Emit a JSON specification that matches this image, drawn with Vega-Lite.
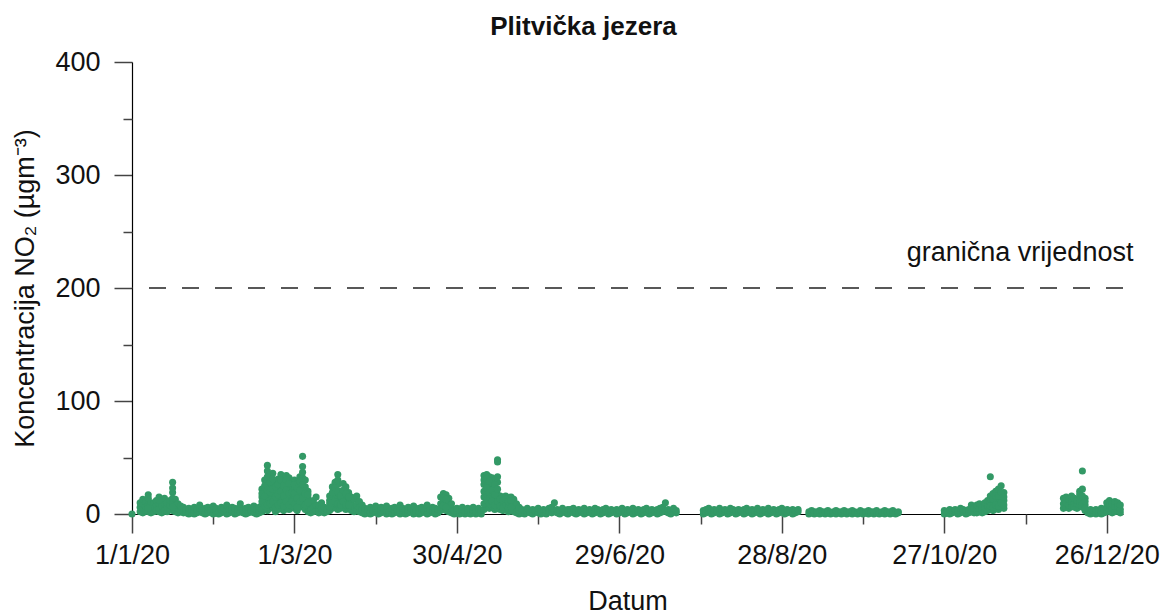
{
"$schema":"https://vega.github.io/schema/vega-lite/v6.json",
"width":991,"height":452,"autosize":"none",
"padding":{"left":132,"top":62,"right":44,"bottom":102},
"background":"white",
"title":{"text":"Plitvička jezera","font":"Liberation Sans","fontSize":26,"fontWeight":"bold","color":"#111","anchor":"middle","dx":-44,"offset":8},
"config":{"view":{"stroke":null},"axis":{"grid":false,"labelFont":"Liberation Sans","titleFont":"Liberation Sans","labelColor":"#111","titleColor":"#111","titleFontWeight":"normal","domainColor":"#000","tickColor":"#444","tickWidth":1.5,"domainWidth":1.2}},
"resolve":{"axis":{"x":"independent","y":"independent"}},
"layer":[
{"data":{"values":[
{"t":"2020-01-01","v":0},
{"t":"2020-01-04","v":2},{"t":"2020-01-04","v":6},{"t":"2020-01-04","v":10},
{"t":"2020-01-05","v":1},{"t":"2020-01-05","v":5},{"t":"2020-01-05","v":9},{"t":"2020-01-05","v":13},
{"t":"2020-01-06","v":3},{"t":"2020-01-06","v":7},{"t":"2020-01-06","v":11},
{"t":"2020-01-07","v":2},{"t":"2020-01-07","v":8},{"t":"2020-01-07","v":17},{"t":"2020-01-07","v":12},
{"t":"2020-01-08","v":1},{"t":"2020-01-08","v":4},{"t":"2020-01-08","v":9},
{"t":"2020-01-09","v":2},{"t":"2020-01-09","v":6},{"t":"2020-01-09","v":10},
{"t":"2020-01-10","v":3},{"t":"2020-01-10","v":8},{"t":"2020-01-10","v":12},
{"t":"2020-01-11","v":2},{"t":"2020-01-11","v":5},{"t":"2020-01-11","v":15},{"t":"2020-01-11","v":9},
{"t":"2020-01-12","v":1},{"t":"2020-01-12","v":7},{"t":"2020-01-12","v":11},
{"t":"2020-01-13","v":3},{"t":"2020-01-13","v":9},{"t":"2020-01-13","v":14},
{"t":"2020-01-14","v":2},{"t":"2020-01-14","v":6},{"t":"2020-01-14","v":10},
{"t":"2020-01-15","v":4},{"t":"2020-01-15","v":8},{"t":"2020-01-15","v":12},
{"t":"2020-01-16","v":3},{"t":"2020-01-16","v":10},{"t":"2020-01-16","v":19},{"t":"2020-01-16","v":28},
{"t":"2020-01-17","v":2},{"t":"2020-01-17","v":7},{"t":"2020-01-17","v":13},
{"t":"2020-01-18","v":1},{"t":"2020-01-18","v":5},{"t":"2020-01-18","v":9},
{"t":"2020-01-19","v":2},{"t":"2020-01-19","v":4},{"t":"2020-01-19","v":7},
{"t":"2020-01-20","v":1},{"t":"2020-01-20","v":3},{"t":"2020-01-20","v":6},
{"t":"2020-01-21","v":1},{"t":"2020-01-21","v":4},
{"t":"2020-01-22","v":0},{"t":"2020-01-22","v":3},{"t":"2020-01-22","v":5},
{"t":"2020-01-23","v":1},{"t":"2020-01-23","v":2},{"t":"2020-01-23","v":4},
{"t":"2020-01-24","v":0},{"t":"2020-01-24","v":3},{"t":"2020-01-24","v":6},
{"t":"2020-01-25","v":1},{"t":"2020-01-25","v":4},
{"t":"2020-01-26","v":2},{"t":"2020-01-26","v":5},{"t":"2020-01-26","v":8},
{"t":"2020-01-27","v":1},{"t":"2020-01-27","v":3},
{"t":"2020-01-28","v":0},{"t":"2020-01-28","v":2},{"t":"2020-01-28","v":5},
{"t":"2020-01-29","v":1},{"t":"2020-01-29","v":4},{"t":"2020-01-29","v":6},
{"t":"2020-01-30","v":2},{"t":"2020-01-30","v":3},
{"t":"2020-01-31","v":0},{"t":"2020-01-31","v":4},{"t":"2020-01-31","v":7},
{"t":"2020-02-01","v":1},{"t":"2020-02-01","v":3},{"t":"2020-02-01","v":5},
{"t":"2020-02-02","v":0},{"t":"2020-02-02","v":2},
{"t":"2020-02-03","v":1},{"t":"2020-02-03","v":4},{"t":"2020-02-03","v":6},
{"t":"2020-02-04","v":2},{"t":"2020-02-04","v":5},
{"t":"2020-02-05","v":0},{"t":"2020-02-05","v":3},{"t":"2020-02-05","v":8},
{"t":"2020-02-06","v":1},{"t":"2020-02-06","v":4},
{"t":"2020-02-07","v":2},{"t":"2020-02-07","v":3},{"t":"2020-02-07","v":6},
{"t":"2020-02-08","v":0},{"t":"2020-02-08","v":2},{"t":"2020-02-08","v":5},
{"t":"2020-02-09","v":1},{"t":"2020-02-09","v":4},
{"t":"2020-02-10","v":2},{"t":"2020-02-10","v":6},{"t":"2020-02-10","v":9},
{"t":"2020-02-11","v":1},{"t":"2020-02-11","v":3},
{"t":"2020-02-12","v":0},{"t":"2020-02-12","v":2},{"t":"2020-02-12","v":5},
{"t":"2020-02-13","v":1},{"t":"2020-02-13","v":4},{"t":"2020-02-13","v":6},
{"t":"2020-02-14","v":2},{"t":"2020-02-14","v":3},
{"t":"2020-02-15","v":1},{"t":"2020-02-15","v":5},{"t":"2020-02-15","v":7},
{"t":"2020-02-16","v":0},{"t":"2020-02-16","v":2},{"t":"2020-02-16","v":4},
{"t":"2020-02-17","v":1},{"t":"2020-02-17","v":3},{"t":"2020-02-17","v":6},
{"t":"2020-02-18","v":2},{"t":"2020-02-18","v":8},{"t":"2020-02-18","v":15},{"t":"2020-02-18","v":22},
{"t":"2020-02-19","v":4},{"t":"2020-02-19","v":12},{"t":"2020-02-19","v":20},{"t":"2020-02-19","v":30},
{"t":"2020-02-20","v":3},{"t":"2020-02-20","v":15},{"t":"2020-02-20","v":28},{"t":"2020-02-20","v":38},{"t":"2020-02-20","v":43},
{"t":"2020-02-21","v":5},{"t":"2020-02-21","v":14},{"t":"2020-02-21","v":24},{"t":"2020-02-21","v":33},
{"t":"2020-02-22","v":6},{"t":"2020-02-22","v":18},{"t":"2020-02-22","v":27},{"t":"2020-02-22","v":36},
{"t":"2020-02-23","v":2},{"t":"2020-02-23","v":10},{"t":"2020-02-23","v":20},{"t":"2020-02-23","v":29},
{"t":"2020-02-24","v":4},{"t":"2020-02-24","v":13},{"t":"2020-02-24","v":22},{"t":"2020-02-24","v":31},
{"t":"2020-02-25","v":5},{"t":"2020-02-25","v":16},{"t":"2020-02-25","v":25},{"t":"2020-02-25","v":35},
{"t":"2020-02-26","v":3},{"t":"2020-02-26","v":11},{"t":"2020-02-26","v":21},{"t":"2020-02-26","v":30},
{"t":"2020-02-27","v":6},{"t":"2020-02-27","v":17},{"t":"2020-02-27","v":26},{"t":"2020-02-27","v":34},
{"t":"2020-02-28","v":4},{"t":"2020-02-28","v":12},{"t":"2020-02-28","v":23},{"t":"2020-02-28","v":32},
{"t":"2020-02-29","v":7},{"t":"2020-02-29","v":15},{"t":"2020-02-29","v":24},{"t":"2020-02-29","v":28},
{"t":"2020-03-01","v":5},{"t":"2020-03-01","v":14},{"t":"2020-03-01","v":22},{"t":"2020-03-01","v":30},
{"t":"2020-03-02","v":3},{"t":"2020-03-02","v":10},{"t":"2020-03-02","v":19},{"t":"2020-03-02","v":27},
{"t":"2020-03-03","v":6},{"t":"2020-03-03","v":16},{"t":"2020-03-03","v":26},{"t":"2020-03-03","v":33},
{"t":"2020-03-04","v":8},{"t":"2020-03-04","v":20},{"t":"2020-03-04","v":32},{"t":"2020-03-04","v":42},{"t":"2020-03-04","v":51},
{"t":"2020-03-05","v":4},{"t":"2020-03-05","v":12},{"t":"2020-03-05","v":24},{"t":"2020-03-05","v":30},
{"t":"2020-03-06","v":2},{"t":"2020-03-06","v":7},{"t":"2020-03-06","v":14},{"t":"2020-03-06","v":20},
{"t":"2020-03-07","v":1},{"t":"2020-03-07","v":4},{"t":"2020-03-07","v":9},
{"t":"2020-03-08","v":2},{"t":"2020-03-08","v":6},{"t":"2020-03-08","v":12},
{"t":"2020-03-09","v":3},{"t":"2020-03-09","v":8},{"t":"2020-03-09","v":15},
{"t":"2020-03-10","v":1},{"t":"2020-03-10","v":4},{"t":"2020-03-10","v":8},
{"t":"2020-03-11","v":2},{"t":"2020-03-11","v":5},{"t":"2020-03-11","v":10},
{"t":"2020-03-12","v":1},{"t":"2020-03-12","v":3},{"t":"2020-03-12","v":6},
{"t":"2020-03-13","v":2},{"t":"2020-03-13","v":4},
{"t":"2020-03-14","v":3},{"t":"2020-03-14","v":9},{"t":"2020-03-14","v":16},
{"t":"2020-03-15","v":5},{"t":"2020-03-15","v":15},{"t":"2020-03-15","v":24},
{"t":"2020-03-16","v":6},{"t":"2020-03-16","v":18},{"t":"2020-03-16","v":28},
{"t":"2020-03-17","v":4},{"t":"2020-03-17","v":14},{"t":"2020-03-17","v":26},{"t":"2020-03-17","v":35},{"t":"2020-03-17","v":30},
{"t":"2020-03-18","v":5},{"t":"2020-03-18","v":12},{"t":"2020-03-18","v":20},
{"t":"2020-03-19","v":6},{"t":"2020-03-19","v":16},{"t":"2020-03-19","v":27},
{"t":"2020-03-20","v":4},{"t":"2020-03-20","v":13},{"t":"2020-03-20","v":24},
{"t":"2020-03-21","v":5},{"t":"2020-03-21","v":11},{"t":"2020-03-21","v":19},
{"t":"2020-03-22","v":3},{"t":"2020-03-22","v":9},{"t":"2020-03-22","v":15},
{"t":"2020-03-23","v":2},{"t":"2020-03-23","v":7},{"t":"2020-03-23","v":13},
{"t":"2020-03-24","v":3},{"t":"2020-03-24","v":8},{"t":"2020-03-24","v":16},
{"t":"2020-03-25","v":2},{"t":"2020-03-25","v":6},{"t":"2020-03-25","v":11},
{"t":"2020-03-26","v":1},{"t":"2020-03-26","v":4},{"t":"2020-03-26","v":8},
{"t":"2020-03-27","v":0},{"t":"2020-03-27","v":3},{"t":"2020-03-27","v":5},
{"t":"2020-03-28","v":1},{"t":"2020-03-28","v":4},
{"t":"2020-03-29","v":0},{"t":"2020-03-29","v":2},{"t":"2020-03-29","v":6},
{"t":"2020-03-30","v":1},{"t":"2020-03-30","v":3},
{"t":"2020-03-31","v":2},{"t":"2020-03-31","v":5},{"t":"2020-03-31","v":7},
{"t":"2020-04-01","v":0},{"t":"2020-04-01","v":3},
{"t":"2020-04-02","v":1},{"t":"2020-04-02","v":4},{"t":"2020-04-02","v":6},
{"t":"2020-04-03","v":2},{"t":"2020-04-03","v":5},
{"t":"2020-04-04","v":0},{"t":"2020-04-04","v":3},{"t":"2020-04-04","v":7},
{"t":"2020-04-05","v":1},{"t":"2020-04-05","v":2},
{"t":"2020-04-06","v":0},{"t":"2020-04-06","v":4},{"t":"2020-04-06","v":5},
{"t":"2020-04-07","v":1},{"t":"2020-04-07","v":3},{"t":"2020-04-07","v":6},
{"t":"2020-04-08","v":2},{"t":"2020-04-08","v":4},
{"t":"2020-04-09","v":0},{"t":"2020-04-09","v":3},{"t":"2020-04-09","v":8},
{"t":"2020-04-10","v":1},{"t":"2020-04-10","v":5},
{"t":"2020-04-11","v":0},{"t":"2020-04-11","v":2},{"t":"2020-04-11","v":4},
{"t":"2020-04-12","v":1},{"t":"2020-04-12","v":3},{"t":"2020-04-12","v":6},
{"t":"2020-04-13","v":2},{"t":"2020-04-13","v":5},
{"t":"2020-04-14","v":0},{"t":"2020-04-14","v":4},{"t":"2020-04-14","v":7},
{"t":"2020-04-15","v":1},{"t":"2020-04-15","v":3},
{"t":"2020-04-16","v":0},{"t":"2020-04-16","v":2},{"t":"2020-04-16","v":5},
{"t":"2020-04-17","v":1},{"t":"2020-04-17","v":4},{"t":"2020-04-17","v":6},
{"t":"2020-04-18","v":2},{"t":"2020-04-18","v":3},
{"t":"2020-04-19","v":0},{"t":"2020-04-19","v":5},{"t":"2020-04-19","v":8},
{"t":"2020-04-20","v":1},{"t":"2020-04-20","v":4},
{"t":"2020-04-21","v":2},{"t":"2020-04-21","v":3},{"t":"2020-04-21","v":6},
{"t":"2020-04-22","v":0},{"t":"2020-04-22","v":2},{"t":"2020-04-22","v":5},
{"t":"2020-04-23","v":1},{"t":"2020-04-23","v":4},
{"t":"2020-04-24","v":3},{"t":"2020-04-24","v":9},{"t":"2020-04-24","v":15},
{"t":"2020-04-25","v":4},{"t":"2020-04-25","v":11},{"t":"2020-04-25","v":18},
{"t":"2020-04-26","v":3},{"t":"2020-04-26","v":10},{"t":"2020-04-26","v":17},
{"t":"2020-04-27","v":2},{"t":"2020-04-27","v":8},{"t":"2020-04-27","v":14},
{"t":"2020-04-28","v":1},{"t":"2020-04-28","v":5},{"t":"2020-04-28","v":9},
{"t":"2020-04-29","v":0},{"t":"2020-04-29","v":3},
{"t":"2020-04-30","v":1},{"t":"2020-04-30","v":2},{"t":"2020-04-30","v":5},
{"t":"2020-05-01","v":0},{"t":"2020-05-01","v":3},
{"t":"2020-05-02","v":1},{"t":"2020-05-02","v":4},{"t":"2020-05-02","v":6},
{"t":"2020-05-03","v":0},{"t":"2020-05-03","v":2},
{"t":"2020-05-04","v":1},{"t":"2020-05-04","v":3},{"t":"2020-05-04","v":5},
{"t":"2020-05-05","v":0},{"t":"2020-05-05","v":4},
{"t":"2020-05-06","v":2},{"t":"2020-05-06","v":3},{"t":"2020-05-06","v":6},
{"t":"2020-05-07","v":0},{"t":"2020-05-07","v":2},
{"t":"2020-05-08","v":1},{"t":"2020-05-08","v":4},{"t":"2020-05-08","v":5},
{"t":"2020-05-09","v":0},{"t":"2020-05-09","v":3},
{"t":"2020-05-10","v":4},{"t":"2020-05-10","v":15},{"t":"2020-05-10","v":26},{"t":"2020-05-10","v":34},
{"t":"2020-05-11","v":6},{"t":"2020-05-11","v":18},{"t":"2020-05-11","v":28},{"t":"2020-05-11","v":35},
{"t":"2020-05-12","v":5},{"t":"2020-05-12","v":14},{"t":"2020-05-12","v":25},{"t":"2020-05-12","v":33},
{"t":"2020-05-13","v":7},{"t":"2020-05-13","v":16},{"t":"2020-05-13","v":27},{"t":"2020-05-13","v":32},
{"t":"2020-05-14","v":4},{"t":"2020-05-14","v":12},{"t":"2020-05-14","v":22},{"t":"2020-05-14","v":30},
{"t":"2020-05-15","v":5},{"t":"2020-05-15","v":17},{"t":"2020-05-15","v":28},{"t":"2020-05-15","v":48},{"t":"2020-05-15","v":46},
{"t":"2020-05-16","v":4},{"t":"2020-05-16","v":10},{"t":"2020-05-16","v":16},
{"t":"2020-05-17","v":3},{"t":"2020-05-17","v":9},{"t":"2020-05-17","v":15},
{"t":"2020-05-18","v":5},{"t":"2020-05-18","v":11},{"t":"2020-05-18","v":16},
{"t":"2020-05-19","v":2},{"t":"2020-05-19","v":8},{"t":"2020-05-19","v":14},
{"t":"2020-05-20","v":3},{"t":"2020-05-20","v":9},{"t":"2020-05-20","v":15},
{"t":"2020-05-21","v":2},{"t":"2020-05-21","v":7},{"t":"2020-05-21","v":13},
{"t":"2020-05-22","v":1},{"t":"2020-05-22","v":5},{"t":"2020-05-22","v":9},
{"t":"2020-05-23","v":0},{"t":"2020-05-23","v":3},{"t":"2020-05-23","v":6},
{"t":"2020-05-24","v":1},{"t":"2020-05-24","v":4},
{"t":"2020-05-25","v":0},{"t":"2020-05-25","v":3},
{"t":"2020-05-26","v":2},{"t":"2020-05-26","v":5},
{"t":"2020-05-27","v":1},{"t":"2020-05-27","v":3},
{"t":"2020-05-28","v":0},{"t":"2020-05-28","v":4},
{"t":"2020-05-29","v":2},{"t":"2020-05-29","v":3},
{"t":"2020-05-30","v":1},{"t":"2020-05-30","v":5},
{"t":"2020-05-31","v":0},{"t":"2020-05-31","v":2},
{"t":"2020-06-01","v":1},{"t":"2020-06-01","v":4},
{"t":"2020-06-02","v":0},{"t":"2020-06-02","v":3},
{"t":"2020-06-03","v":2},{"t":"2020-06-03","v":5},
{"t":"2020-06-04","v":1},{"t":"2020-06-04","v":6},
{"t":"2020-06-05","v":3},{"t":"2020-06-05","v":10},
{"t":"2020-06-06","v":1},{"t":"2020-06-06","v":4},
{"t":"2020-06-07","v":0},{"t":"2020-06-07","v":3},
{"t":"2020-06-08","v":2},{"t":"2020-06-08","v":5},
{"t":"2020-06-09","v":1},{"t":"2020-06-09","v":3},
{"t":"2020-06-10","v":0},{"t":"2020-06-10","v":4},
{"t":"2020-06-11","v":2},{"t":"2020-06-11","v":4},
{"t":"2020-06-12","v":1},{"t":"2020-06-12","v":5},
{"t":"2020-06-13","v":0},{"t":"2020-06-13","v":3},
{"t":"2020-06-14","v":1},{"t":"2020-06-14","v":4},
{"t":"2020-06-15","v":2},{"t":"2020-06-15","v":3},
{"t":"2020-06-16","v":0},{"t":"2020-06-16","v":5},
{"t":"2020-06-17","v":1},{"t":"2020-06-17","v":3},
{"t":"2020-06-18","v":2},{"t":"2020-06-18","v":4},
{"t":"2020-06-19","v":0},{"t":"2020-06-19","v":3},
{"t":"2020-06-20","v":1},{"t":"2020-06-20","v":5},
{"t":"2020-06-21","v":2},{"t":"2020-06-21","v":4},
{"t":"2020-06-22","v":0},{"t":"2020-06-22","v":3},
{"t":"2020-06-23","v":1},{"t":"2020-06-23","v":4},
{"t":"2020-06-24","v":2},{"t":"2020-06-24","v":5},
{"t":"2020-06-25","v":0},{"t":"2020-06-25","v":3},
{"t":"2020-06-26","v":1},{"t":"2020-06-26","v":4},
{"t":"2020-06-27","v":2},{"t":"2020-06-27","v":3},
{"t":"2020-06-28","v":0},{"t":"2020-06-28","v":4},
{"t":"2020-06-29","v":1},{"t":"2020-06-29","v":3},
{"t":"2020-06-30","v":2},{"t":"2020-06-30","v":5},
{"t":"2020-07-01","v":0},{"t":"2020-07-01","v":3},
{"t":"2020-07-02","v":1},{"t":"2020-07-02","v":4},
{"t":"2020-07-03","v":2},{"t":"2020-07-03","v":3},
{"t":"2020-07-04","v":0},{"t":"2020-07-04","v":5},
{"t":"2020-07-05","v":1},{"t":"2020-07-05","v":3},
{"t":"2020-07-06","v":2},{"t":"2020-07-06","v":4},
{"t":"2020-07-07","v":0},{"t":"2020-07-07","v":3},
{"t":"2020-07-08","v":1},{"t":"2020-07-08","v":4},
{"t":"2020-07-09","v":2},{"t":"2020-07-09","v":5},
{"t":"2020-07-10","v":0},{"t":"2020-07-10","v":3},
{"t":"2020-07-11","v":1},{"t":"2020-07-11","v":4},
{"t":"2020-07-12","v":2},{"t":"2020-07-12","v":3},
{"t":"2020-07-13","v":0},{"t":"2020-07-13","v":4},
{"t":"2020-07-14","v":1},{"t":"2020-07-14","v":5},
{"t":"2020-07-15","v":2},{"t":"2020-07-15","v":6},
{"t":"2020-07-16","v":3},{"t":"2020-07-16","v":10},
{"t":"2020-07-17","v":1},{"t":"2020-07-17","v":4},
{"t":"2020-07-18","v":0},{"t":"2020-07-18","v":3},
{"t":"2020-07-19","v":2},{"t":"2020-07-19","v":5},
{"t":"2020-07-20","v":1},{"t":"2020-07-20","v":3},
{"t":"2020-07-30","v":0},{"t":"2020-07-30","v":3},
{"t":"2020-07-31","v":1},{"t":"2020-07-31","v":4},
{"t":"2020-08-01","v":2},{"t":"2020-08-01","v":5},
{"t":"2020-08-02","v":0},{"t":"2020-08-02","v":3},
{"t":"2020-08-03","v":1},{"t":"2020-08-03","v":4},
{"t":"2020-08-04","v":2},{"t":"2020-08-04","v":3},
{"t":"2020-08-05","v":0},{"t":"2020-08-05","v":5},
{"t":"2020-08-06","v":1},{"t":"2020-08-06","v":3},
{"t":"2020-08-07","v":2},{"t":"2020-08-07","v":4},
{"t":"2020-08-08","v":0},{"t":"2020-08-08","v":3},
{"t":"2020-08-09","v":1},{"t":"2020-08-09","v":5},
{"t":"2020-08-10","v":2},{"t":"2020-08-10","v":4},
{"t":"2020-08-11","v":0},{"t":"2020-08-11","v":3},
{"t":"2020-08-12","v":1},{"t":"2020-08-12","v":4},
{"t":"2020-08-13","v":2},{"t":"2020-08-13","v":3},
{"t":"2020-08-14","v":0},{"t":"2020-08-14","v":4},
{"t":"2020-08-15","v":1},{"t":"2020-08-15","v":5},
{"t":"2020-08-16","v":2},{"t":"2020-08-16","v":3},
{"t":"2020-08-17","v":0},{"t":"2020-08-17","v":4},
{"t":"2020-08-18","v":1},{"t":"2020-08-18","v":3},
{"t":"2020-08-19","v":2},{"t":"2020-08-19","v":5},
{"t":"2020-08-20","v":0},{"t":"2020-08-20","v":3},
{"t":"2020-08-21","v":1},{"t":"2020-08-21","v":4},
{"t":"2020-08-22","v":2},{"t":"2020-08-22","v":3},
{"t":"2020-08-23","v":0},{"t":"2020-08-23","v":5},
{"t":"2020-08-24","v":1},{"t":"2020-08-24","v":3},
{"t":"2020-08-25","v":2},{"t":"2020-08-25","v":4},
{"t":"2020-08-26","v":0},{"t":"2020-08-26","v":3},
{"t":"2020-08-27","v":1},{"t":"2020-08-27","v":4},
{"t":"2020-08-28","v":2},{"t":"2020-08-28","v":5},
{"t":"2020-08-29","v":0},{"t":"2020-08-29","v":3},
{"t":"2020-08-30","v":1},{"t":"2020-08-30","v":4},
{"t":"2020-08-31","v":2},{"t":"2020-08-31","v":3},
{"t":"2020-09-01","v":0},{"t":"2020-09-01","v":4},
{"t":"2020-09-02","v":1},{"t":"2020-09-02","v":3},
{"t":"2020-09-03","v":2},{"t":"2020-09-03","v":4},
{"t":"2020-09-07","v":0},{"t":"2020-09-07","v":2},
{"t":"2020-09-08","v":1},{"t":"2020-09-08","v":3},
{"t":"2020-09-09","v":0},{"t":"2020-09-09","v":2},
{"t":"2020-09-10","v":1},{"t":"2020-09-10","v":2},
{"t":"2020-09-11","v":0},{"t":"2020-09-11","v":3},
{"t":"2020-09-12","v":1},{"t":"2020-09-12","v":2},
{"t":"2020-09-13","v":0},{"t":"2020-09-13","v":2},
{"t":"2020-09-14","v":1},{"t":"2020-09-14","v":3},
{"t":"2020-09-15","v":0},{"t":"2020-09-15","v":1},
{"t":"2020-09-16","v":1},{"t":"2020-09-16","v":2},
{"t":"2020-09-17","v":0},{"t":"2020-09-17","v":3},
{"t":"2020-09-18","v":1},{"t":"2020-09-18","v":2},
{"t":"2020-09-19","v":0},{"t":"2020-09-19","v":2},
{"t":"2020-09-20","v":1},{"t":"2020-09-20","v":3},
{"t":"2020-09-21","v":0},{"t":"2020-09-21","v":2},
{"t":"2020-09-22","v":1},{"t":"2020-09-22","v":2},
{"t":"2020-09-23","v":0},{"t":"2020-09-23","v":3},
{"t":"2020-09-24","v":1},{"t":"2020-09-24","v":2},
{"t":"2020-09-25","v":0},{"t":"2020-09-25","v":1},
{"t":"2020-09-26","v":1},{"t":"2020-09-26","v":3},
{"t":"2020-09-27","v":0},{"t":"2020-09-27","v":2},
{"t":"2020-09-28","v":1},{"t":"2020-09-28","v":2},
{"t":"2020-09-29","v":0},{"t":"2020-09-29","v":3},
{"t":"2020-09-30","v":1},{"t":"2020-09-30","v":2},
{"t":"2020-10-01","v":0},{"t":"2020-10-01","v":2},
{"t":"2020-10-02","v":1},{"t":"2020-10-02","v":3},
{"t":"2020-10-03","v":0},{"t":"2020-10-03","v":1},
{"t":"2020-10-04","v":1},{"t":"2020-10-04","v":2},
{"t":"2020-10-05","v":0},{"t":"2020-10-05","v":3},
{"t":"2020-10-06","v":1},{"t":"2020-10-06","v":2},
{"t":"2020-10-07","v":0},{"t":"2020-10-07","v":2},
{"t":"2020-10-08","v":1},{"t":"2020-10-08","v":3},
{"t":"2020-10-09","v":0},{"t":"2020-10-09","v":1},
{"t":"2020-10-10","v":1},{"t":"2020-10-10","v":2},
{"t":"2020-10-27","v":0},{"t":"2020-10-27","v":3},
{"t":"2020-10-28","v":1},{"t":"2020-10-28","v":2},
{"t":"2020-10-29","v":0},{"t":"2020-10-29","v":4},
{"t":"2020-10-30","v":1},{"t":"2020-10-30","v":3},
{"t":"2020-10-31","v":2},{"t":"2020-10-31","v":4},
{"t":"2020-11-01","v":0},{"t":"2020-11-01","v":3},
{"t":"2020-11-02","v":1},{"t":"2020-11-02","v":5},
{"t":"2020-11-03","v":2},{"t":"2020-11-03","v":4},
{"t":"2020-11-04","v":0},{"t":"2020-11-04","v":3},
{"t":"2020-11-05","v":1},{"t":"2020-11-05","v":4},
{"t":"2020-11-06","v":2},{"t":"2020-11-06","v":8},
{"t":"2020-11-07","v":1},{"t":"2020-11-07","v":5},
{"t":"2020-11-08","v":1},{"t":"2020-11-08","v":4},{"t":"2020-11-08","v":8},
{"t":"2020-11-09","v":2},{"t":"2020-11-09","v":5},{"t":"2020-11-09","v":9},
{"t":"2020-11-10","v":1},{"t":"2020-11-10","v":3},{"t":"2020-11-10","v":6},
{"t":"2020-11-11","v":2},{"t":"2020-11-11","v":6},{"t":"2020-11-11","v":10},
{"t":"2020-11-12","v":3},{"t":"2020-11-12","v":7},{"t":"2020-11-12","v":12},
{"t":"2020-11-13","v":4},{"t":"2020-11-13","v":10},{"t":"2020-11-13","v":16},{"t":"2020-11-13","v":33},
{"t":"2020-11-14","v":3},{"t":"2020-11-14","v":9},{"t":"2020-11-14","v":18},
{"t":"2020-11-15","v":5},{"t":"2020-11-15","v":12},{"t":"2020-11-15","v":20},
{"t":"2020-11-16","v":4},{"t":"2020-11-16","v":11},{"t":"2020-11-16","v":22},
{"t":"2020-11-17","v":6},{"t":"2020-11-17","v":14},{"t":"2020-11-17","v":25},
{"t":"2020-11-18","v":5},{"t":"2020-11-18","v":12},{"t":"2020-11-18","v":19},
{"t":"2020-12-10","v":5},{"t":"2020-12-10","v":9},{"t":"2020-12-10","v":14},
{"t":"2020-12-11","v":6},{"t":"2020-12-11","v":10},{"t":"2020-12-11","v":15},
{"t":"2020-12-12","v":5},{"t":"2020-12-12","v":8},{"t":"2020-12-12","v":13},
{"t":"2020-12-13","v":7},{"t":"2020-12-13","v":11},{"t":"2020-12-13","v":16},
{"t":"2020-12-14","v":6},{"t":"2020-12-14","v":10},{"t":"2020-12-14","v":14},
{"t":"2020-12-15","v":5},{"t":"2020-12-15","v":9},{"t":"2020-12-15","v":12},
{"t":"2020-12-16","v":8},{"t":"2020-12-16","v":14},{"t":"2020-12-16","v":20},
{"t":"2020-12-17","v":6},{"t":"2020-12-17","v":12},{"t":"2020-12-17","v":22},{"t":"2020-12-17","v":38},
{"t":"2020-12-18","v":3},{"t":"2020-12-18","v":8},{"t":"2020-12-18","v":14},
{"t":"2020-12-19","v":1},{"t":"2020-12-19","v":3},
{"t":"2020-12-20","v":0},{"t":"2020-12-20","v":2},{"t":"2020-12-20","v":4},
{"t":"2020-12-21","v":1},{"t":"2020-12-21","v":3},
{"t":"2020-12-22","v":0},{"t":"2020-12-22","v":2},{"t":"2020-12-22","v":4},
{"t":"2020-12-23","v":1},{"t":"2020-12-23","v":3},
{"t":"2020-12-24","v":0},{"t":"2020-12-24","v":2},{"t":"2020-12-24","v":5},
{"t":"2020-12-25","v":1},{"t":"2020-12-25","v":4},
{"t":"2020-12-26","v":2},{"t":"2020-12-26","v":6},{"t":"2020-12-26","v":10},
{"t":"2020-12-27","v":3},{"t":"2020-12-27","v":8},{"t":"2020-12-27","v":12},
{"t":"2020-12-28","v":1},{"t":"2020-12-28","v":5},{"t":"2020-12-28","v":9},
{"t":"2020-12-29","v":2},{"t":"2020-12-29","v":7},{"t":"2020-12-29","v":11},
{"t":"2020-12-30","v":3},{"t":"2020-12-30","v":6},{"t":"2020-12-30","v":10},
{"t":"2020-12-31","v":1},{"t":"2020-12-31","v":4},{"t":"2020-12-31","v":8},
{"t":"2020-01-07","v":5},{"t":"2020-01-07","v":14},{"t":"2020-01-11","v":12},
{"t":"2020-01-16","v":6},{"t":"2020-01-16","v":14},{"t":"2020-01-16","v":23},
{"t":"2020-02-18","v":4},{"t":"2020-02-18","v":11},{"t":"2020-02-18","v":18},
{"t":"2020-02-19","v":7},{"t":"2020-02-19","v":16},{"t":"2020-02-19","v":25},
{"t":"2020-02-20","v":8},{"t":"2020-02-20","v":21},{"t":"2020-02-20","v":33},
{"t":"2020-02-21","v":9},{"t":"2020-02-21","v":19},{"t":"2020-02-21","v":28},
{"t":"2020-02-22","v":11},{"t":"2020-02-22","v":22},{"t":"2020-02-22","v":31},
{"t":"2020-02-23","v":6},{"t":"2020-02-23","v":15},{"t":"2020-02-23","v":24},
{"t":"2020-02-24","v":8},{"t":"2020-02-24","v":17},{"t":"2020-02-24","v":26},
{"t":"2020-02-25","v":10},{"t":"2020-02-25","v":20},{"t":"2020-02-25","v":30},
{"t":"2020-02-26","v":7},{"t":"2020-02-26","v":16},{"t":"2020-02-26","v":25},
{"t":"2020-02-27","v":11},{"t":"2020-02-27","v":21},{"t":"2020-02-27","v":30},
{"t":"2020-02-28","v":8},{"t":"2020-02-28","v":18},{"t":"2020-02-28","v":27},
{"t":"2020-02-29","v":11},{"t":"2020-02-29","v":19},
{"t":"2020-03-01","v":9},{"t":"2020-03-01","v":18},{"t":"2020-03-01","v":26},
{"t":"2020-03-02","v":6},{"t":"2020-03-02","v":14},{"t":"2020-03-02","v":23},
{"t":"2020-03-03","v":11},{"t":"2020-03-03","v":21},{"t":"2020-03-03","v":29},
{"t":"2020-03-04","v":14},{"t":"2020-03-04","v":26},{"t":"2020-03-04","v":37},
{"t":"2020-03-05","v":8},{"t":"2020-03-05","v":18},
{"t":"2020-03-06","v":10},{"t":"2020-03-06","v":17},
{"t":"2020-03-14","v":6},{"t":"2020-03-14","v":12},
{"t":"2020-03-15","v":10},{"t":"2020-03-15","v":19},
{"t":"2020-03-16","v":11},{"t":"2020-03-16","v":23},
{"t":"2020-03-17","v":9},{"t":"2020-03-17","v":20},
{"t":"2020-03-18","v":8},{"t":"2020-03-18","v":16},
{"t":"2020-03-19","v":11},{"t":"2020-03-19","v":21},
{"t":"2020-03-20","v":8},{"t":"2020-03-20","v":18},
{"t":"2020-03-21","v":8},{"t":"2020-03-21","v":15},
{"t":"2020-04-25","v":7},{"t":"2020-04-25","v":14},
{"t":"2020-04-26","v":6},{"t":"2020-04-26","v":13},
{"t":"2020-05-10","v":9},{"t":"2020-05-10","v":20},{"t":"2020-05-10","v":30},
{"t":"2020-05-11","v":12},{"t":"2020-05-11","v":23},{"t":"2020-05-11","v":31},
{"t":"2020-05-12","v":9},{"t":"2020-05-12","v":19},{"t":"2020-05-12","v":29},
{"t":"2020-05-13","v":11},{"t":"2020-05-13","v":21},
{"t":"2020-05-14","v":8},{"t":"2020-05-14","v":17},{"t":"2020-05-14","v":26},
{"t":"2020-05-15","v":11},{"t":"2020-05-15","v":22},{"t":"2020-05-15","v":33},
{"t":"2020-05-16","v":7},{"t":"2020-05-16","v":13},
{"t":"2020-05-17","v":6},{"t":"2020-05-17","v":12},
{"t":"2020-05-18","v":8},{"t":"2020-05-18","v":13},
{"t":"2020-05-19","v":5},{"t":"2020-05-19","v":11},
{"t":"2020-05-20","v":6},{"t":"2020-05-20","v":12},
{"t":"2020-11-13","v":7},{"t":"2020-11-13","v":13},
{"t":"2020-11-14","v":6},{"t":"2020-11-14","v":13},
{"t":"2020-11-15","v":8},{"t":"2020-11-15","v":16},
{"t":"2020-11-16","v":7},{"t":"2020-11-16","v":16},
{"t":"2020-11-17","v":10},{"t":"2020-11-17","v":19},
{"t":"2020-11-18","v":8},{"t":"2020-11-18","v":15},
{"t":"2020-12-16","v":11},{"t":"2020-12-16","v":17},
{"t":"2020-12-17","v":9},{"t":"2020-12-17","v":16},
{"t":"2020-12-18","v":5},{"t":"2020-12-18","v":11}
]},
"mark":{"type":"circle","size":50,"color":"#339966","opacity":1},
"encoding":{
"x":{"field":"t","type":"temporal","scale":{"type":"utc","domain":[1577836800000,1609459200000]},
"axis":{"orient":"bottom","values":[1577836800000,1583020800000,1588204800000,1593388800000,1598572800000,1603756800000,1608940800000],"labelExpr":"utcFormat(datum.value, '%-d/%-m/%y')","labelFontSize":27,"tickSize":19,"labelPadding":9,"labelFlush":false,"labelOverlap":false,"title":"Datum","titleFontSize":27,"titlePadding":20}},
"y":{"field":"v","type":"quantitative","scale":{"domain":[0,400]},
"axis":{"orient":"left","values":[0,100,200,300,400],"labelFontSize":27,"tickSize":18,"labelPadding":14,"title":"Koncentracija NO₂ (µgm⁻³)","titleFontSize":27,"titlePadding":15}}}},
{"data":{"values":[{"v":200,"label":"granična vrijednost"}]},
"mark":{"type":"rule","color":"#222","strokeWidth":1.5,"strokeDash":[17,16]},
"encoding":{"y":{"field":"v","type":"quantitative","axis":null}}},
{"data":{"values":[{"v":200,"label":"granična vrijednost"}]},
"mark":{"type":"text","font":"Liberation Sans","fontSize":27,"color":"#111","align":"center","baseline":"middle","dy":-35},
"encoding":{"text":{"field":"label"},
"x":{"datum":1606176000000,"type":"temporal","axis":{"orient":"bottom","values":[1580428800000,1585612800000,1590796800000,1595980800000,1601164800000,1606348800000],"labels":false,"domain":false,"tickSize":10,"title":null}},
"y":{"field":"v","type":"quantitative","axis":{"orient":"left","values":[50,150,250,350],"labels":false,"domain":false,"tickSize":9,"title":null}}}}
]
}
